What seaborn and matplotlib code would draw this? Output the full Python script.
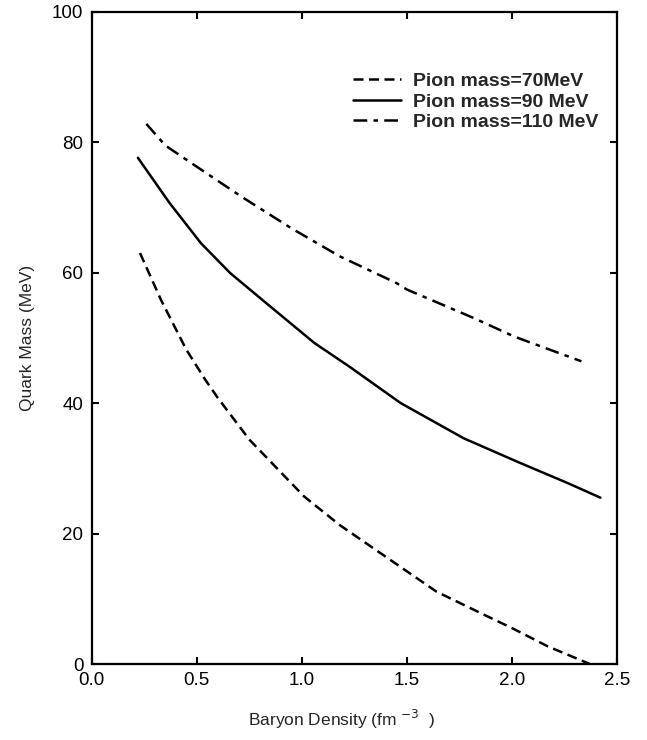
import pandas as pd
import matplotlib
matplotlib.use("Agg")
import matplotlib.pyplot as plt
import seaborn as sns

# curve readings (baryon density in fm^-3, quark mass in MeV)
density_70 = [0.23, 0.33, 0.45, 0.54, 0.60, 0.75, 1.01, 1.18, 1.50, 1.64, 1.87, 2.00, 2.17, 2.37]
mass_70 = [63.0, 55.8, 48.2, 43.6, 40.8, 34.4, 25.7, 21.3, 14.2, 11.1, 7.5, 5.5, 2.7, 0.0]

density_90 = [0.22, 0.37, 0.52, 0.66, 0.85, 1.06, 1.23, 1.47, 1.77, 2.04, 2.26, 2.42]
mass_90 = [77.6, 70.7, 64.5, 59.9, 54.8, 49.2, 45.5, 40.0, 34.6, 30.8, 27.8, 25.5]

density_110 = [0.26, 0.35, 0.52, 0.71, 0.95, 1.18, 1.45, 1.50, 1.82, 2.01, 2.33]
mass_110 = [82.8, 79.5, 75.8, 71.7, 66.8, 62.5, 58.4, 57.4, 53.0, 50.2, 46.4]

labels = ["Pion mass=70MeV", "Pion mass=90 MeV", "Pion mass=110 MeV"]

x_ticks = [0.0, 0.5, 1.0, 1.5, 2.0, 2.5]
y_ticks = [0, 20, 40, 60, 80, 100]

sns.set_theme(style="ticks")
plt.rcParams["font.family"] = ["Liberation Sans", "DejaVu Sans"]

df = pd.concat([
    pd.DataFrame({"density": density_70, "mass": mass_70, "series": labels[0]}),
    pd.DataFrame({"density": density_90, "mass": mass_90, "series": labels[1]}),
    pd.DataFrame({"density": density_110, "mass": mass_110, "series": labels[2]}),
])

fig = plt.figure(figsize=(6.47, 7.40), dpi=100)
ax = fig.add_axes([0.1417, 0.1027, 0.8122, 0.8815])

dash_map = {labels[0]: (4, 2.2), labels[1]: "", labels[2]: (5.5, 2.5, 1.8, 2.5)}
sns.lineplot(data=df, x="density", y="mass", style="series", style_order=labels,
             dashes=dash_map, color="black", linewidth=1.8, estimator=None,
             sort=False, ax=ax)

ax.set_xlim(0, 2.5)
ax.set_ylim(0, 100)
ax.set_xticks(x_ticks)
ax.set_xticklabels([f"{t:.1f}" for t in x_ticks])
ax.set_yticks(y_ticks)
ax.tick_params(direction="in", length=5, width=1.5, top=True, right=True,
               labelsize=13.5, colors="black", pad=6)
for sp in ax.spines.values():
    sp.set_linewidth(1.6)
    sp.set_color("black")

ax.set_xlabel("Baryon Density (fm $^{-3}$  )", fontsize=12.5)
ax.xaxis.set_label_coords(0.475, -0.068)
ax.set_ylabel("Quark Mass (MeV)", fontsize=12.5, labelpad=12)

leg = ax.legend(loc="upper left", bbox_to_anchor=(0.531, 0.915),
                bbox_transform=fig.transFigure, frameon=False,
                prop={"weight": "bold", "size": 14}, handlelength=2.45,
                handletextpad=0.6, labelspacing=0.14, borderpad=0)

fig.savefig("out.png", dpi=100)
